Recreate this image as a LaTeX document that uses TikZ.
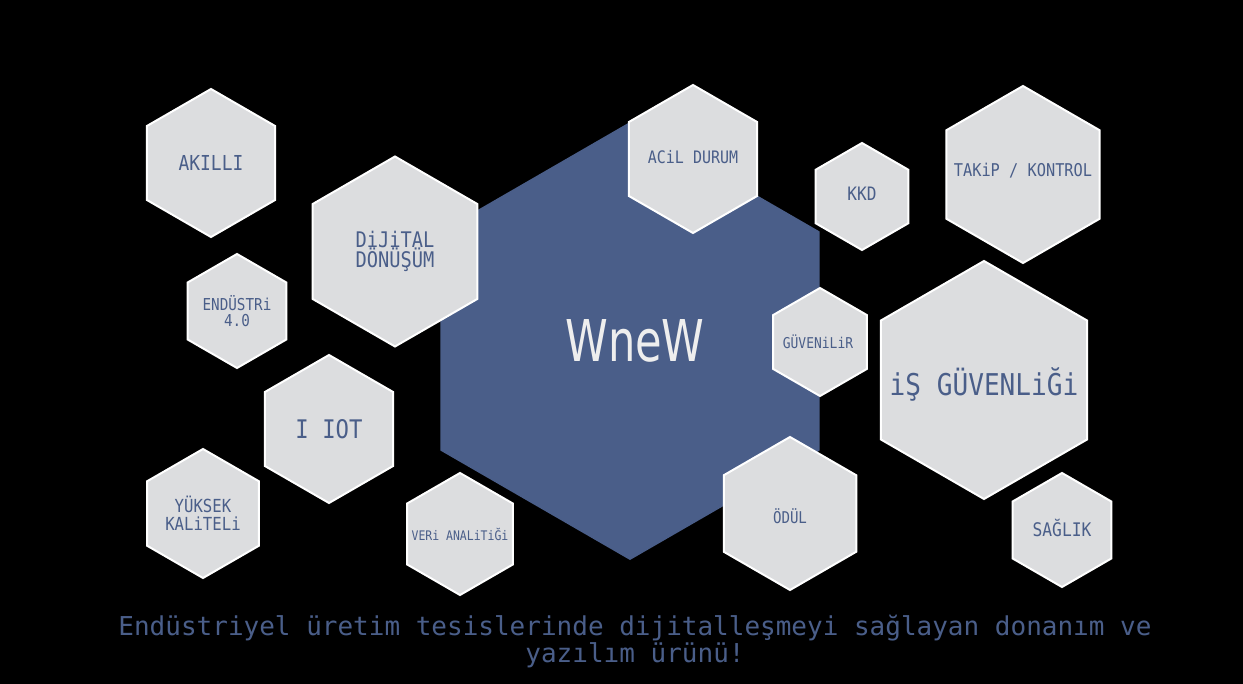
\documentclass[tikz,border=0pt]{standalone}
\usepackage{fontspec}
\usepackage{xcolor}
\usepackage{tikz}
\usetikzlibrary{shapes.geometric,positioning}

\newfontfamily\hexfont[FakeStretch=0.87]{DejaVu Sans Mono}
\newfontfamily\slogfont{DejaVu Sans Mono}
\newfontfamily\logofont[FakeStretch=0.75]{DejaVu Sans}

\definecolor{hexgray}{HTML}{DCDDDF}
\definecolor{wblue}{HTML}{4A5E89}
\definecolor{logowhite}{HTML}{EEEEEE}

\begin{document}
\begin{tikzpicture}[
        x=1pt, y=-1pt,
        every node/.style={inner sep=0pt, outer sep=0pt},
        hexa/.style={regular polygon, regular polygon sides=6, shape border rotate=30, fill=hexgray, draw=white, line width=2pt, minimum size=#1},
        bighex/.style={regular polygon, regular polygon sides=6, shape border rotate=30, fill=wblue, minimum size=#1},
        hextext/.style={text=wblue, align=center, font=\hexfont\fontsize{#1}{#1}\selectfont},
        slogan/.style={text=wblue, anchor=base, font=\slogfont\fontsize{26}{27}\selectfont},
    ]
        % Background
        \path[fill=black, use as bounding box] (0,0) rectangle (1243,684);

        % Center hexagon
        \node (wnew) [bighex=438pt] at (630,341) {};
        \node (wnewtxt) [text=logowhite, font=\logofont\fontsize{57.6}{57.6}\selectfont] at ([xshift=5pt]wnew) {WneW};

        % Left side
        \node (akilli) [hexa=148pt] at (211,163) {};
        \node (dijital) [hexa=190pt] at (395,251.5) {};
        \node (endustri) [hexa=114pt] at (237,311) {};
        \node (iiot) [hexa=148pt] at (329,429) {};
        \node (yuksek) [hexa=129pt] at (203,513.5) {};
        \node (veri) [hexa=122pt] at (460,534) {};

        % Right side
        \node (acil) [hexa=148pt] at (693,159) {};
        \node (kkd) [hexa=107pt] at (862,196.5) {};
        \node (takip) [hexa=177pt] at (1023,174.5) {};
        \node (guvenilir) [hexa=108pt] at (820,342) {};
        \node (isguv) [hexa=238pt] at (984,380) {};
        \node (odul) [hexa=153pt] at (790,513.5) {};
        \node (saglik) [hexa=114pt] at (1062,530) {};

        % Labels
        \node (akillitxt) [hextext=20.6] at (akilli) {AKILLI};
        \node (dijitaltxt) [hextext=21.5] at (dijital) {DiJiTAL\\[-1pt]DÖNÜŞÜM};
        \node (endustritxt) [hextext=16.4] at (endustri) {ENDÜSTRi\\4.0};
        \node (iiottxt) [hextext=25.6] at (iiot) {I IOT};
        \node (yuksektxt) [hextext=18] at (yuksek) {YÜKSEK\\KALiTELi};
        \node (veritxt) [hextext=13.2] at (veri) {VERi ANALiTiĞi};
        \node (aciltxt) [hextext=17.2] at ([yshift=2pt]acil) {ACiL DURUM};
        \node (kkdtxt) [hextext=18.5] at ([yshift=2.5pt]kkd) {KKD};
        \node (takiptxt) [hextext=17.6] at ([yshift=3.5pt]takip) {TAKiP / KONTROL};
        \node (guvenilirtxt) [hextext=14.9] at ([xshift=-2pt]guvenilir) {GÜVENiLiR};
        \node (isguvtxt) [hextext=30] at ([yshift=-4.5pt]isguv) {iŞ GÜVENLiĞi};
        \node (odultxt) [hextext=16.2] at ([yshift=-2.5pt]odul) {ÖDÜL};
        \node (sagliktxt) [hextext=18.7] at ([yshift=2pt]saglik) {SAĞLIK};

        % Bottom text
        \node (slogan1) [slogan] at (635,635) {Endüstriyel üretim tesislerinde dijitalleşmeyi sağlayan donanım ve};
        \node (slogan2) [slogan] at (635,662) {yazılım ürünü!};

    \end{tikzpicture}
\end{document}
